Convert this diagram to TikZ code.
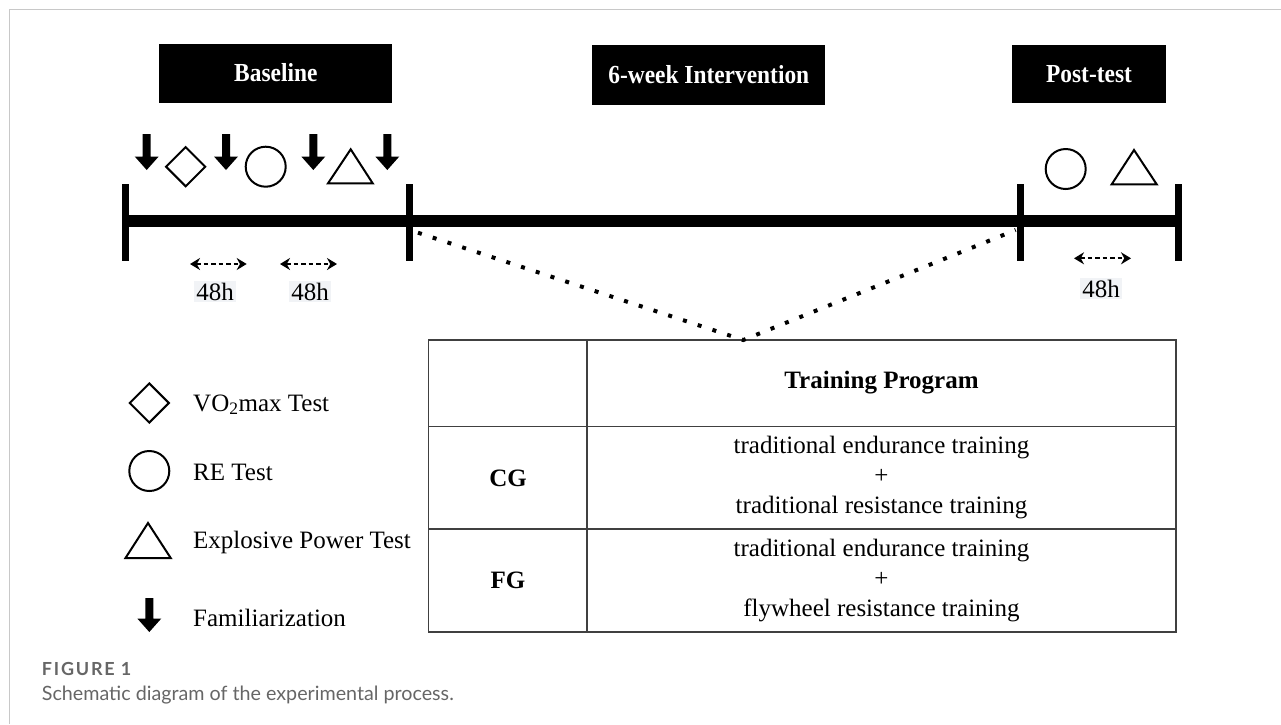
\documentclass[tikz,border=0pt]{standalone}
\usepackage{fontspec}
\setmainfont{Liberation Serif}
\newfontfamily\hdrfont{Liberation Serif}[FakeStretch=0.9]
\newfontfamily\capfont{Lato}
\newfontfamily\capfontb{Lato}[LetterSpace=10]
\usetikzlibrary{arrows.meta,shapes.geometric}
\definecolor{framegray}{HTML}{C8C8C8}
\definecolor{capgray}{HTML}{666666}
\definecolor{tabline}{HTML}{404040}
\definecolor{lblbg}{HTML}{F1F3F6}
\newcommand\famarrow[4]{% name, x, ytop, ytip
  \coordinate (#1) at (#2,#3);
  \fill (#2-4,#3) -- (#2+4,#3) -- (#2+4,#4-13.5) -- (#2+12,#4-13.5) -- (#2,#4)
     -- (#2-12,#4-13.5) -- (#2-4,#4-13.5) -- cycle;}
\begin{document}
\begin{tikzpicture}[x=1pt,y=-1pt,
  hdr/.style={fill=black,text=white,font=\hdrfont\fontsize{26}{30}\selectfont\bfseries,inner sep=0pt},
  shp/.style={draw,line width=2pt,inner sep=0pt},
  txt/.style={font=\fontsize{25}{30}\selectfont,inner sep=0pt},
  lbl/.style={font=\fontsize{25}{30}\selectfont,fill=lblbg,inner sep=2pt},
  dbl/.style={line width=1.8pt,dash pattern=on 4.5pt off 3pt,{Stealth[length=10pt,width=12pt]}-{Stealth[length=10pt,width=12pt]}},
  tick/.style={line width=7pt},
  dots/.style={line width=4pt,dash pattern=on 4pt off 11.5pt},
  tab/.style={draw=tabline,line width=1.2pt}]
\useasboundingbox (0,0) rectangle (1281,724);
% frame
\draw[framegray,line width=1.5pt] (9.5,724) -- (9.5,9.5) -- (1281,9.5);
% headers
\node[hdr,minimum width=233pt,minimum height=59pt] (base) at (275.8,73) {Baseline};
\node[hdr,minimum width=233pt,minimum height=60pt] (interv) at (708.8,75) {6-week Intervention};
\node[hdr,minimum width=154pt,minimum height=58pt] (post) at (1089,74) {Post-test};
% timeline
\coordinate (t1) at (125,221);
\coordinate (t2) at (409.3,221);
\coordinate (t3) at (1020.7,221);
\coordinate (t4) at (1178.3,221);
\draw[line width=12pt] (t1) -- (t4);
\foreach \t in {t1,t2,t3,t4} \draw[tick] (\t)+(0,-37) -- +(0,40);
% baseline tests
\famarrow{a1}{146.7}{134}{170}
\node[shp,diamond,minimum width=40pt,minimum height=40pt] (d1) at (185.7,166.7) {};
\famarrow{a2}{226}{134}{170}
\node[shp,circle,minimum size=40pt] (c1) at (265.7,166.7) {};
\famarrow{a3}{313.3}{134}{170}
\draw[line width=2pt,line join=miter] (328,183.3) -- (350.7,149.3) -- (372.7,183.3) -- cycle;
\famarrow{a4}{387.3}{134}{170}
% post tests
\node[shp,circle,minimum size=40pt] (c2) at (1065.7,169) {};
\draw[line width=2pt,line join=miter] (1111.7,184.3) -- (1134,150) -- (1156.7,184.3) -- cycle;
% 48h intervals
\coordinate (h1a) at (190,264); \coordinate (h1b) at (246.7,264);
\coordinate (h2a) at (280,264); \coordinate (h2b) at (337,264);
\coordinate (h3a) at (1074,258.3); \coordinate (h3b) at (1131,258.3);
\draw[dbl] (h1a) -- (h1b);
\draw[dbl] (h2a) -- (h2b);
\draw[dbl] (h3a) -- (h3b);
\node[lbl,anchor=base] (l1) at (215,300) {48h};
\node[lbl,anchor=base] (l2) at (310,300) {48h};
\node[lbl,anchor=base] (l3) at (1101,297) {48h};
% table
\coordinate (tl) at (428.5,340);
\coordinate (tr) at (1176,340);
\coordinate (apex) at (743.3,340);
\draw[tab] (428.5,340) rectangle (1176,632);
\draw[tab] (587,340) -- (587,632);
\draw[tab] (428.5,426.7) -- (1176,426.7);
\draw[tab] (428.5,529) -- (1176,529);
\node[txt,font=\fontsize{25}{30}\selectfont\bfseries] (tp) at (881.5,383) {Training Program};
\node[txt,font=\fontsize{25}{30}\selectfont\bfseries] (cg) at (508,478) {CG};
\node[txt,font=\fontsize{25}{30}\selectfont\bfseries] (fg) at (508,580.5) {FG};
\node[txt,align=center] (cgt) at (881.5,478) {traditional endurance training\\+\\traditional resistance training};
\node[txt,align=center] (fgt) at (881.5,580.5) {traditional endurance training\\+\\flywheel resistance training};
% dotted zoom lines
\coordinate (dl) at (418,232.7);
\coordinate (dr) at (1015.7,230);
\draw[dots] (dl) -- (apex) -- (dr);
% legend
\node[shp,diamond,minimum width=40pt,minimum height=40pt] (ld) at (149.3,403) {};
\node[txt,anchor=base west] (ldt) at (193,411) {VO\textsubscript{2}max Test};
\node[shp,circle,minimum size=40pt] (lc) at (149.3,471) {};
\node[txt,anchor=base west] (lct) at (193,480) {RE Test};
\draw[line width=2pt,line join=miter] (125.5,558) -- (148,523) -- (170.7,558) -- cycle;
\node[txt,anchor=base west] (ltt) at (193,548) {Explosive Power Test};
\famarrow{la}{149.3}{598}{632}
\node[txt,anchor=base west] (lat) at (193,626) {Familiarization};
% caption
\node[anchor=base west,inner sep=0pt,text=capgray,font=\capfontb\bfseries\fontsize{18}{20}\selectfont] (fig) at (41.7,675.7) {FIGURE 1};
\node[anchor=base west,inner sep=0pt,text=capgray,font=\capfont\fontsize{19.7}{22}\selectfont] (cap) at (41.7,700) {Schematic diagram of the experimental process.};
\end{tikzpicture}
\end{document}
